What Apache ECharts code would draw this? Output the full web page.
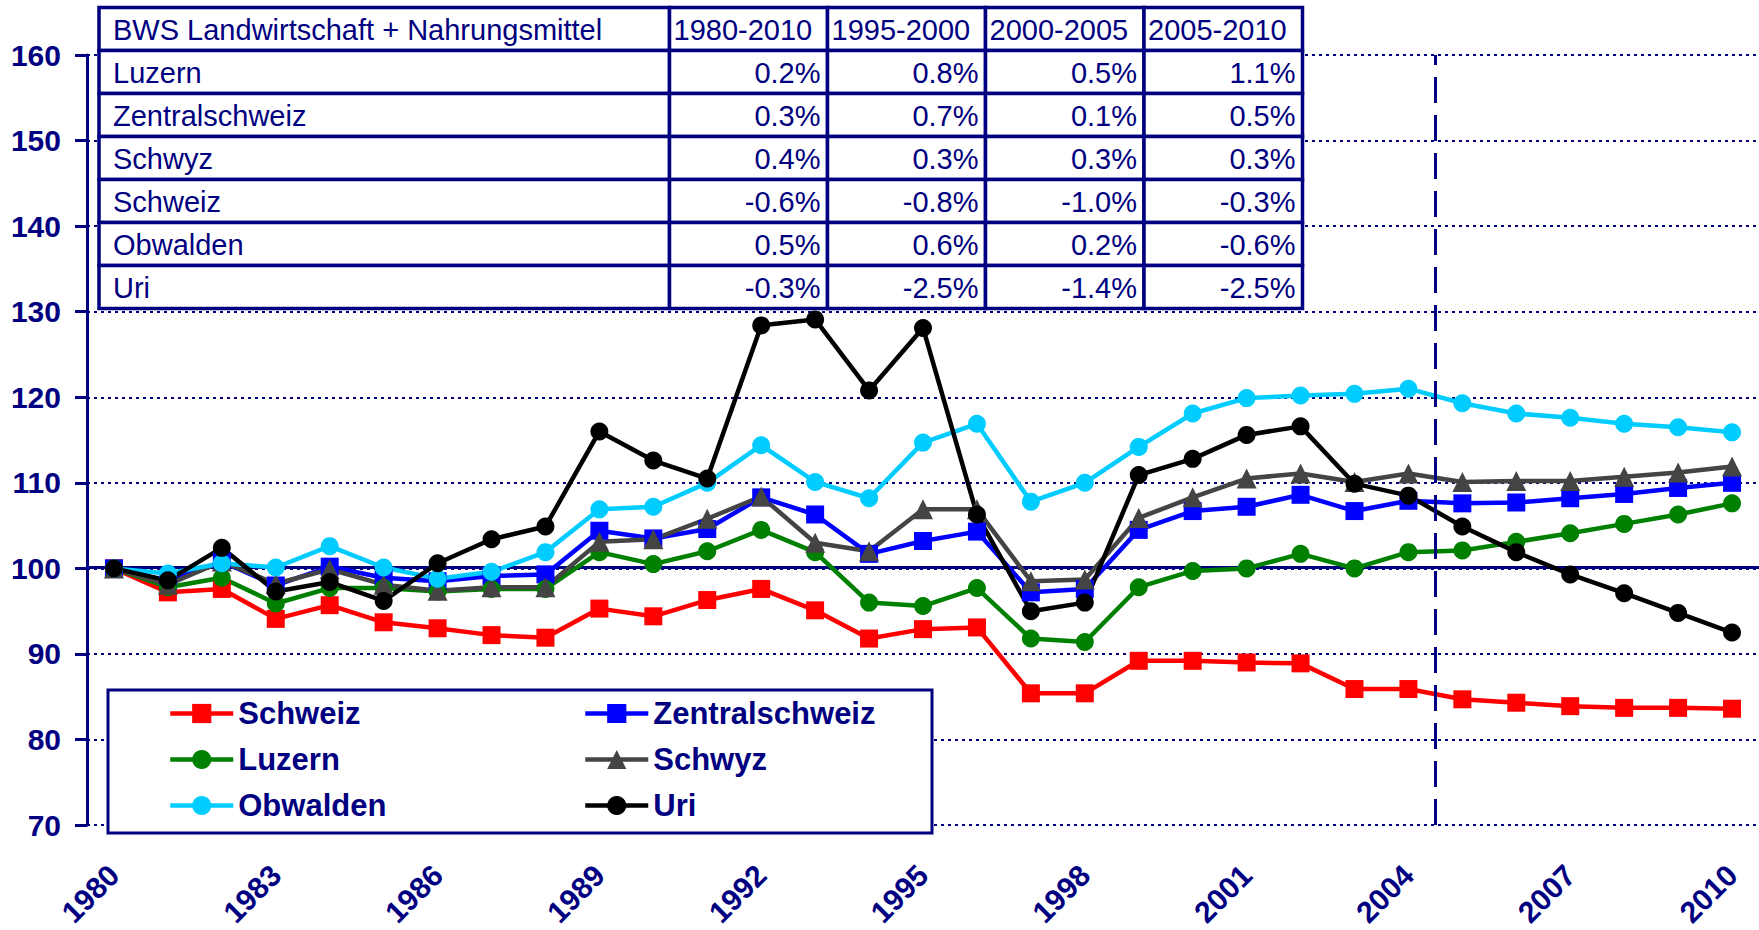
<!DOCTYPE html>
<html>
<head>
<meta charset="utf-8">
<title>BWS Landwirtschaft + Nahrungsmittel</title>
<script src="https://cdn.jsdelivr.net/npm/echarts@6.0.0/dist/echarts.min.js"></script>
<style>
  html, body { margin: 0; padding: 0; background: #fff; }
  #chart { width: 1759px; height: 930px; }
</style>
</head>
<body>
<div id="chart"></div>
<script>
const years = [];
for (let y = 1980; y <= 2010; y++) years.push(String(y));

// index values, 1980 = 100
const schweiz = [100, 97.2, 97.6, 94.1, 95.7, 93.7, 93.0, 92.2, 91.9, 95.3, 94.4, 96.3, 97.6, 95.1, 91.8, 92.9, 93.1, 85.4, 85.4, 89.2, 89.2, 89.0, 88.9, 85.9, 85.9, 84.7, 84.3, 83.9, 83.7, 83.7, 83.6];
const zentralschweiz = [100, 98.5, 100.8, 98.0, 100.2, 98.9, 98.5, 99.1, 99.3, 104.4, 103.5, 104.6, 108.3, 106.3, 101.7, 103.2, 104.3, 97.2, 97.6, 104.5, 106.7, 107.2, 108.6, 106.7, 107.9, 107.6, 107.7, 108.2, 108.7, 109.4, 110.0];
const luzern = [100, 97.8, 98.9, 95.9, 97.7, 97.7, 97.3, 97.6, 97.6, 101.9, 100.5, 102.0, 104.5, 101.9, 96.0, 95.6, 97.7, 91.8, 91.4, 97.8, 99.7, 100.0, 101.7, 100.0, 101.9, 102.1, 103.1, 104.1, 105.2, 106.3, 107.6];
const schwyz = [100, 98.1, 100.8, 98.2, 99.9, 98.1, 97.4, 97.8, 97.8, 103.1, 103.4, 105.8, 108.4, 103.0, 102.0, 106.9, 106.9, 98.5, 98.7, 105.9, 108.3, 110.5, 111.1, 110.1, 111.1, 110.1, 110.2, 110.2, 110.7, 111.2, 111.9];
const obwalden = [100, 99.4, 100.6, 100.1, 102.6, 100.1, 98.8, 99.6, 101.9, 106.9, 107.2, 110.0, 114.4, 110.1, 108.2, 114.7, 116.9, 107.8, 110.0, 114.2, 118.1, 119.9, 120.2, 120.4, 121.0, 119.3, 118.1, 117.6, 116.9, 116.5, 115.9];
const uri = [100, 98.6, 102.4, 97.3, 98.4, 96.2, 100.6, 103.4, 104.9, 116.0, 112.6, 110.5, 128.4, 129.1, 120.8, 128.1, 106.3, 95.0, 96.0, 110.9, 112.8, 115.6, 116.6, 109.9, 108.5, 104.9, 101.9, 99.3, 97.1, 94.8, 92.5];

// growth table (% per year)
const tableTitle = 'BWS Landwirtschaft + Nahrungsmittel';
const tablePeriods = ['1980-2010', '1995-2000', '2000-2005', '2005-2010'];
const tableRegions = ['Luzern', 'Zentralschweiz', 'Schwyz', 'Schweiz', 'Obwalden', 'Uri'];
const growthLuzern = [0.2, 0.8, 0.5, 1.1];
const growthZentralschweiz = [0.3, 0.7, 0.1, 0.5];
const growthSchwyz = [0.4, 0.3, 0.3, 0.3];
const growthSchweiz = [-0.6, -0.8, -1.0, -0.3];
const growthObwalden = [0.5, 0.6, 0.2, -0.6];
const growthUri = [-0.3, -2.5, -1.4, -2.5];

const forecastStart = 24.5; // between 2004 and 2005

const navy = '#000080';
const fontFam = '"Liberation Sans", Arial, sans-serif';

function lineSeries(name, data, color, symbol, size) {
  return {
    name: name,
    type: 'line',
    data: data,
    xAxisIndex: 0,
    symbol: symbol,
    symbolSize: size,
    lineStyle: { color: color, width: 4.5 },
    itemStyle: { color: color },
    animation: false
  };
}

// table cells as graphic elements
const tableRows = [[tableTitle].concat(tablePeriods)];
const growth = [growthLuzern, growthZentralschweiz, growthSchwyz, growthSchweiz, growthObwalden, growthUri];
tableRegions.forEach(function (r, i) {
  tableRows.push([r].concat(growth[i].map(function (v) { return v.toFixed(1) + '%'; })));
});
const colX = [99, 669.5, 827.5, 985.5, 1144, 1302.5];
const rowY0 = 7.5, rowH = 43;
const tableEls = [];
tableRows.forEach(function (row, r) {
  row.forEach(function (txt, c) {
    const x0 = colX[c], y0 = rowY0 + r * rowH;
    tableEls.push({
      type: 'rect', z: 10,
      shape: { x: x0, y: y0, width: colX[c + 1] - x0, height: rowH },
      style: { fill: '#fff', stroke: navy, lineWidth: 3.5 }
    });
    const right = r > 0 && c > 0;
    tableEls.push({
      type: 'text', z: 11,
      x: right ? colX[c + 1] - 7 : x0 + (c === 0 ? 14 : 4),
      y: y0 + rowH / 2 + 1,
      style: {
        text: txt, fill: navy, font: '29px ' + fontFam,
        textAlign: right ? 'right' : 'left', align: right ? 'right' : 'left',
        textVerticalAlign: 'middle', verticalAlign: 'middle'
      }
    });
  });
});

const chart = echarts.init(document.getElementById('chart'), null, { renderer: 'svg' });

const legendBase = {
  orient: 'vertical', top: 698, padding: 0,
  itemWidth: 63, itemHeight: 24, itemGap: 15, selectedMode: false,
  lineStyle: { width: 4.5 },
  textStyle: { color: navy, fontSize: 31, fontWeight: 'bold', fontFamily: fontFam, lineHeight: 24 }
};

chart.setOption({
  animation: false,
  backgroundColor: '#fff',
  grid: { left: 87, right: 0, top: 55, bottom: 102 },
  legend: [
    Object.assign({ data: ['Schweiz', 'Luzern', 'Obwalden'], left: 168 }, legendBase),
    Object.assign({ data: ['Zentralschweiz', 'Schwyz', 'Uri'], left: 583 }, legendBase)
  ],
  xAxis: [
    {
      type: 'category',
      data: years,
      position: 'bottom',
      axisLine: { show: false },
      axisTick: { show: false },
      axisLabel: {
        interval: 2, rotate: 45, margin: 45,
        color: navy, fontSize: 30, fontWeight: 'bold', fontFamily: fontFam
      }
    },
    {
      // axis line drawn at 100
      type: 'category',
      data: years,
      position: 'bottom',
      offset: -258,
      axisLine: { lineStyle: { color: navy, width: 3 } },
      axisTick: { interval: 0, length: 9, lineStyle: { color: navy, width: 2.5 } },
      axisLabel: { show: false }
    },
    {
      type: 'value', min: -0.5, max: 30.5, show: false
    }
  ],
  yAxis: {
    type: 'value',
    min: 70, max: 160, interval: 10,
    axisLine: { show: true, onZero: false, lineStyle: { color: navy, width: 3 } },
    axisTick: { show: true, length: 12, lineStyle: { color: navy, width: 3 } },
    axisLabel: { margin: 26, color: navy, fontSize: 30, fontWeight: 'bold', fontFamily: fontFam },
    splitLine: { lineStyle: { color: navy, width: 2, type: [3, 4] } }
  },
  series: [
    lineSeries('Schweiz', schweiz, '#ff0000', 'rect', 18),
    lineSeries('Zentralschweiz', zentralschweiz, '#0000ff', 'rect', 18),
    lineSeries('Luzern', luzern, '#008000', 'circle', 18),
    lineSeries('Schwyz', schwyz, '#444444', 'triangle', 20),
    lineSeries('Obwalden', obwalden, '#00ccff', 'circle', 18),
    lineSeries('Uri', uri, '#000000', 'circle', 18),
    {
      type: 'line',
      xAxisIndex: 2,
      data: [],
      markLine: {
        silent: true,
        symbol: 'none',
        label: { show: false },
        lineStyle: { color: navy, width: 3, type: [26, 12] },
        data: [{ xAxis: forecastStart }]
      }
    }
  ],
  graphic: [
    {
      type: 'rect', z: 1,
      shape: { x: 108, y: 690, width: 824, height: 143 },
      style: { fill: '#fff', stroke: navy, lineWidth: 3 }
    }
  ].concat(tableEls)
});
</script>
</body>
</html>
